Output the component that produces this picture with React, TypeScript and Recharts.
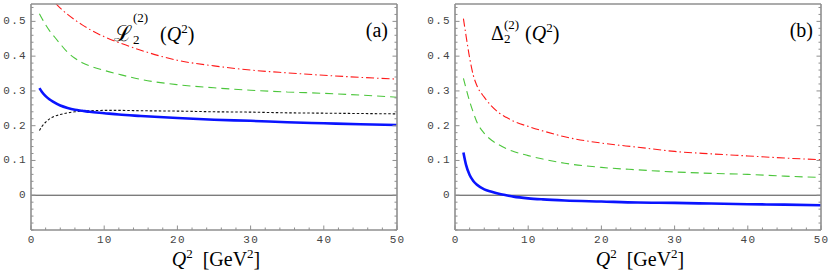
import React from "react";
import { LineChart, Line, XAxis, YAxis, ReferenceLine } from "recharts";

// Q^2 sample points (GeV^2)
const qGrid = [1.15, 1.5, 2, 2.5, 3, 4, 5, 6, 7, 8, 10, 12, 15, 20, 25, 30, 35, 40, 45, 50];
const qRedA = [3.4, 4, 5, 6, 7, 8, 10, 12, 15, 20, 25, 30, 35, 40, 45, 50];

// panel (a): L_2^(2)(Q^2)
const blueA = [0.308, 0.297, 0.285, 0.276, 0.269, 0.258, 0.251, 0.246, 0.243, 0.24, 0.236, 0.232, 0.228, 0.222, 0.217, 0.214, 0.21, 0.207, 0.204, 0.202];
const blackA = [0.186, 0.198, 0.21, 0.219, 0.225, 0.232, 0.237, 0.24, 0.242, 0.243, 0.244, 0.244, 0.243, 0.242, 0.24, 0.239, 0.237, 0.236, 0.235, 0.234];
const greenA = [0.522, 0.508, 0.49, 0.474, 0.461, 0.435, 0.411, 0.394, 0.381, 0.372, 0.359, 0.348, 0.333, 0.318, 0.309, 0.302, 0.297, 0.293, 0.288, 0.282];
const redA = [0.551, 0.538, 0.52, 0.504, 0.49, 0.477, 0.456, 0.439, 0.417, 0.388, 0.372, 0.36, 0.352, 0.345, 0.339, 0.334];

// panel (b): Delta_2^(2)(Q^2)
const blueB = [0.123, 0.088, 0.058, 0.041, 0.03, 0.017, 0.01, 0.004, 0.0, -0.004, -0.009, -0.012, -0.015, -0.018, -0.021, -0.022, -0.024, -0.026, -0.027, -0.029];
const greenB = [0.336, 0.308, 0.27, 0.238, 0.21, 0.178, 0.158, 0.145, 0.134, 0.126, 0.114, 0.104, 0.092, 0.08, 0.073, 0.067, 0.063, 0.06, 0.055, 0.051];
const redB = [0.508, 0.46, 0.395, 0.345, 0.315, 0.282, 0.256, 0.237, 0.224, 0.213, 0.198, 0.185, 0.168, 0.15, 0.138, 0.126, 0.119, 0.113, 0.107, 0.102];

// frame ticks
const xMajor = [0, 10, 20, 30, 40, 50];
const yMajor = [0, 0.1, 0.2, 0.3, 0.4, 0.5];
const xTicks = Array.from({ length: 26 }, (_, i) => i * 2);
const yTicks = Array.from({ length: 33 }, (_, i) => Math.round(i * 2 - 10) / 100);

const FRAME = "#8f8f8f";
const LABEL = "#444444";
const MONO = "Liberation Mono, DejaVu Sans Mono, monospace";
const SERIF = "Liberation Serif, DejaVu Serif, serif";
const serif = { fontFamily: SERIF };

const pts = (q: number[], v: number[]) => q.map((x, i) => ({ q: x, v: v[i] }));

const isMajorX = (v: number) => xMajor.includes(v);
const isMajorY = (v: number) => yMajor.some((m) => Math.abs(m - v) < 1e-9);

function tickFor(side: "left" | "right" | "top" | "bottom") {
  return (props: any) => {
    const { x, y, payload } = props;
    const v = payload.value as number;
    const major = side === "left" || side === "right" ? isMajorY(v) : isMajorX(v);
    const len = major ? 4.5 : 2.5;
    if (side === "left") {
      return (
        <g>
          <line x1={x} x2={x + len} y1={y} y2={y} stroke={FRAME} strokeWidth={1} />
          {major && (
            <text x={x - 4} y={y} textAnchor="end" dominantBaseline="central"
              style={{ fontFamily: MONO }} fontSize={11} letterSpacing={1.3} fill={LABEL}>
              {v === 0 ? "0" : v.toFixed(1)}
            </text>
          )}
        </g>
      );
    }
    if (side === "right") {
      return <line x1={x} x2={x - len} y1={y} y2={y} stroke={FRAME} strokeWidth={1} />;
    }
    if (side === "top") {
      return <line x1={x} x2={x} y1={y} y2={y + len} stroke={FRAME} strokeWidth={1} />;
    }
    return (
      <g>
        <line x1={x} x2={x} y1={y} y2={y - len} stroke={FRAME} strokeWidth={1} />
        {major && (
          <text x={x + 0.6} y={y + 10} textAnchor="middle" dominantBaseline="central"
            style={{ fontFamily: MONO }} fontSize={11} letterSpacing={1.3} fill={LABEL}>
            {String(v)}
          </text>
        )}
      </g>
    );
  };
}

interface Series {
  data: { q: number; v: number }[];
  color: string;
  width: number;
  dash?: string;
}

interface PanelProps {
  axisWidth: number;
  rightMargin: number;
  series: Series[];
  children?: React.ReactNode;
}

const W = 415;
const H = 278;

function Panel({ axisWidth, rightMargin, series, children }: PanelProps) {
  const plotLeft = axisWidth;
  const plotRight = W - rightMargin - 1;
  const mid = (plotLeft + plotRight) / 2 + 2;
  const axisLine = { stroke: FRAME, strokeWidth: 1.6 };
  return (
    <div style={{ position: "relative", width: W, height: H }}>
      <LineChart width={W} height={H} margin={{ top: 3, right: rightMargin, bottom: 0, left: 0 }}>
        <XAxis xAxisId="b" type="number" dataKey="q" domain={[0, 50]} ticks={xTicks} interval={0}
          height={48} tickSize={0} tickMargin={0} tickLine={false} axisLine={axisLine} tick={tickFor("bottom")} />
        <XAxis xAxisId="t" orientation="top" type="number" dataKey="q" domain={[0, 50]} ticks={xTicks} interval={0}
          height={1} tickSize={0} tickMargin={0} tickLine={false} axisLine={axisLine} tick={tickFor("top")} />
        <YAxis yAxisId="l" type="number" domain={[-0.1, 0.55]} ticks={yTicks} interval={0} allowDataOverflow
          width={axisWidth} tickSize={0} tickMargin={0} tickLine={false} axisLine={axisLine} tick={tickFor("left")} />
        <YAxis yAxisId="r" orientation="right" type="number" domain={[-0.1, 0.55]} ticks={yTicks} interval={0} allowDataOverflow
          width={1} tickSize={0} tickMargin={0} tickLine={false} axisLine={axisLine} tick={tickFor("right")} />
        <ReferenceLine xAxisId="b" yAxisId="l" y={0} stroke="#4a4a4a" strokeWidth={1} />
        {series.map((s, i) => (
          <Line key={i} xAxisId="b" yAxisId="l" data={s.data} dataKey="v" type="monotone"
            stroke={s.color} strokeWidth={s.width} strokeDasharray={s.dash} dot={false}
            activeDot={false} isAnimationActive={false} />
        ))}
      </LineChart>
      <svg width={W} height={H} style={{ position: "absolute", left: 0, top: 0, pointerEvents: "none" }}>
        <text x={mid} y={266} textAnchor="middle" style={serif} fontSize={20} fill="#000">
          <tspan fontStyle="italic">Q</tspan>
          <tspan fontSize={13} dy={-8}>2</tspan>
          <tspan dy={8}>{"\u2002[GeV"}</tspan>
          <tspan fontSize={13} dy={-8}>2</tspan>
          <tspan dy={8}>]</tspan>
        </text>
        {children}
      </svg>
    </div>
  );
}

export default function App() {
  const seriesA: Series[] = [
    { data: pts(qRedA, redA), color: "#ff1a1a", width: 1.1, dash: "8 3 1.5 3" },
    { data: pts(qGrid, greenA), color: "#4cc63c", width: 1.1, dash: "8 5" },
    { data: pts(qGrid, blackA), color: "#111111", width: 1.1, dash: "2.5 2" },
    { data: pts(qGrid, blueA), color: "#0a14ff", width: 2.6 },
  ];
  const seriesB: Series[] = [
    { data: pts(qGrid, redB), color: "#ff1a1a", width: 1.1, dash: "8 3 1.5 3" },
    { data: pts(qGrid, greenB), color: "#4cc63c", width: 1.1, dash: "8 5" },
    { data: pts(qGrid, blueB), color: "#0a14ff", width: 2.6 },
  ];
  return (
    <div style={{ position: "absolute", left: 0, top: 0, width: 830, height: 278, background: "#fff", display: "flex" }}>
      <Panel axisWidth={31} rightMargin={17} series={seriesA}>
        <text x={114} y={41} style={serif} fontSize={22}>ℒ</text>
        <text x={133} y={22} style={serif} fontSize={13}>(2)</text>
        <text x={133} y={44} style={serif} fontSize={13}>2</text>
        <text x={160} y={41} style={serif} fontSize={20}>
          (<tspan fontStyle="italic">Q</tspan>
          <tspan fontSize={13} dy={-8}>2</tspan>
          <tspan dy={8}>)</tspan>
        </text>
        <text x={388} y={37} textAnchor="end" style={serif} fontSize={20}>(a)</text>
      </Panel>
      <Panel axisWidth={40} rightMargin={8} series={seriesB}>
        <text x={76} y={40} style={serif} fontSize={20}>Δ</text>
        <text x={89} y={29} style={serif} fontSize={13}>(2)</text>
        <text x={89} y={43} style={serif} fontSize={13}>2</text>
        <text x={110} y={40} style={serif} fontSize={20}>
          (<tspan fontStyle="italic">Q</tspan>
          <tspan fontSize={13} dy={-8}>2</tspan>
          <tspan dy={8}>)</tspan>
        </text>
        <text x={398} y={37} textAnchor="end" style={serif} fontSize={20}>(b)</text>
      </Panel>
    </div>
  );
}
